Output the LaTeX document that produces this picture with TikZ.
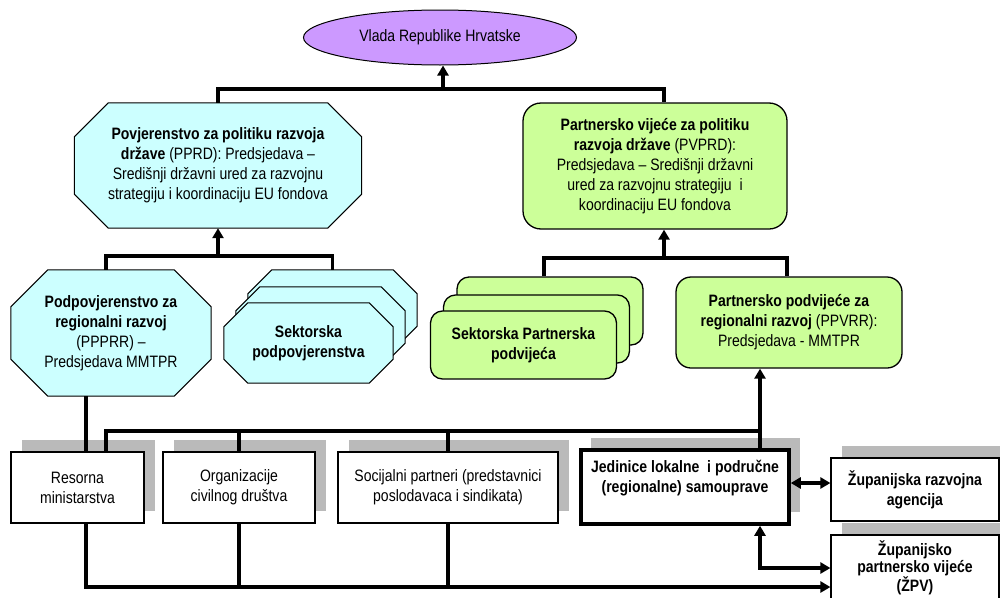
\documentclass[tikz,border=0pt]{standalone}
\usepackage{fontspec}
\setmainfont{Liberation Sans}[FakeStretch=0.85]
\usetikzlibrary{arrows.meta,calc,shadows,shapes.geometric}
\pgfdeclarelayer{bg}
\pgfsetlayers{bg,main}
\definecolor{lav}{HTML}{CC99FF}
\definecolor{cyf}{HTML}{CCFFFF}
\definecolor{grf}{HTML}{CCFF99}
\newcommand\octdraw[3]{%
  \draw[#3] ($(#1.north west)+(#2,0)$) -- ($(#1.north east)+(-#2,0)$) --
    ($(#1.north east)+(0,#2)$) -- ($(#1.south east)+(0,-#2)$) --
    ($(#1.south east)+(-#2,0)$) -- ($(#1.south west)+(#2,0)$) --
    ($(#1.south west)+(0,-#2)$) -- ($(#1.north west)+(0,#2)$) -- cycle;}
\begin{document}
\begin{tikzpicture}[x=1pt,y=-1pt,
  txt/.style={align=center,inner sep=0pt,font=\fontsize{16.5}{20}\selectfont},
  oct/.style={draw,fill=cyf,line width=1pt},
  rbox/.style={txt,draw,fill=grf,line width=1.3pt},
  plain/.style={txt,draw,fill=white,line width=1.2pt,
    general shadow={shadow xshift=11pt,shadow yshift=12pt,fill=black!27}},
  conn/.style={line width=3.1pt},
  arr/.style={conn,-{Triangle[length=10pt,width=11pt]}},
  arrs/.style={conn,{Triangle[length=10pt,width=11pt]}-{Triangle[length=10pt,width=11pt]}}]
\useasboundingbox (0,0) rectangle (1000,597);
\clip (0,0) rectangle (1000,597);

% top
\node[txt,ellipse,draw,fill=lav,line width=1pt,minimum width=273pt,minimum height=55pt] (vlada) at (440,37.5) {Vlada Republike Hrvatske};

\node[txt,minimum width=287pt,minimum height=125pt] (pprd) at (218,165.5)
  {\textbf{Povjerenstvo za politiku razvoja}\\ \textbf{države} (PPRD): Predsjedava –\\ Središnji državni ured za razvojnu\\ strategiju i koordinaciju EU fondova};
\begin{pgfonlayer}{bg}\octdraw{pprd}{34}{oct}\end{pgfonlayer}

\node[rbox,rounded corners=18pt,minimum width=264pt,minimum height=126pt] (pvprd) at (655,166)
  {\textbf{Partnersko vijeće za politiku}\\ \textbf{razvoja države} (PVPRD):\\ Predsjedava – Središnji državni\\ ured za razvojnu strategiju~ i\\ koordinaciju EU fondova};

% middle row
\node[txt,minimum width=200pt,minimum height=126pt] (ppprr) at (111,333)
  {\textbf{Podpovjerenstvo za}\\ \textbf{regionalni razvoj}\\ (PPPRR) –\\ Predsjedava MMTPR};
\node[minimum width=169pt,minimum height=80pt,inner sep=0pt] (spb) at (332.5,310) {};
\node[minimum width=169pt,minimum height=80pt,inner sep=0pt] (spm) at (320.5,327) {};
\node[txt,minimum width=169pt,minimum height=80pt] (spf) at (308.5,343)
  {\textbf{Sektorska}\\ \textbf{podpovjerenstva}};
\begin{pgfonlayer}{bg}
  \octdraw{ppprr}{37}{oct}
  \octdraw{spb}{24}{oct}
  \octdraw{spm}{24}{oct}
  \octdraw{spf}{24}{oct}
\end{pgfonlayer}

\node[rbox,rounded corners=12pt,minimum width=186pt,minimum height=68pt] (gb) at (550,311) {};
\node[rbox,rounded corners=12pt,minimum width=186pt,minimum height=68pt] (gm) at (536.5,329) {};
\node[rbox,rounded corners=12pt,minimum width=186pt,minimum height=68pt] (gf) at (523.5,345)
  {\textbf{Sektorska Partnerska}\\ \textbf{podvijeća}};

\node[rbox,rounded corners=15pt,minimum width=226pt,minimum height=91pt] (ppvrr) at (789,322.5)
  {\textbf{Partnersko podvijeće za}\\ \textbf{regionalni razvoj} (PPVRR):\\ Predsjedava - MMTPR};

% bottom row
\node[plain,minimum width=133pt,minimum height=71pt] (res) at (77.5,487.5) {Resorna\\ ministarstva};
\node[plain,minimum width=152pt,minimum height=71pt] (org) at (239,487.5) {Organizacije\\ civilnog društva};
\node[plain,minimum width=220pt,minimum height=71pt] (soc) at (448,487.5) {Socijalni partneri (predstavnici\\ poslodavaca i sindikata)};
\node[plain,line width=3.5pt,minimum width=208pt,minimum height=74pt,
  general shadow={shadow xshift=10pt,shadow yshift=12pt,fill=black!27}] (jed) at (685,487)
  {\textbf{Jedinice lokalne~ i područne}\\ \textbf{(regionalne) samouprave}\\[2pt]};
\node[plain,minimum width=168pt,minimum height=63pt] (zra) at (915,489.5) {\textbf{Županijska razvojna}\\ \textbf{agencija}};
\node[plain,minimum width=168pt,minimum height=66pt,font=\fontsize{16.5}{17}\selectfont] (zpv) at (915,568)
  {\textbf{Županijsko}\\ \textbf{partnersko vijeće}\\ \textbf{(ŽPV)}};

% connectors
\coordinate (b1) at (443,89);
\coordinate (b2) at (218,256);
\coordinate (b3) at (664,258);
\coordinate (b4l) at (106,431);
\coordinate (b4r) at (760,431);
\coordinate (rx) at (86,587);

\draw[conn] (pprd.north) |- (b1) -| (pvprd.north -| b3);
\draw[arr] (b1) -- (b1 |- vlada.south);

\draw[conn] (ppprr.north -| b4l) |- (b2) -| (spb.north);
\draw[arr] (b2) -- (pprd.south);

\draw[conn] ($(gb.north)+(-6,0)$) |- (b3) -| ($(ppvrr.north)+(-2,0)$);
\draw[arr] (b3) -- (pvprd.south -| b3);

\draw[conn] (res.north -| b4l) -- (b4l) -- (b4r);
\draw[conn] (org.north) -- (org.north |- b4l);
\draw[conn] (soc.north) -- (soc.north |- b4l);
\draw[arr] (jed.north -| b4r) -- (ppvrr.south -| b4r);

\draw[conn] (ppprr.south -| rx) -- (res.north -| rx);
\draw[arr] (res.south -| rx) -- (rx) -- (zpv.west |- rx);
\draw[conn] (org.south) -- (org.south |- rx);
\draw[conn] (soc.south) -- (soc.south |- rx);

\draw[arrs] ($(jed.east)+(0,-4)$) -- ($(zra.west |- jed.east)+(0,-4)$);
\draw[arrs] (jed.south -| b4r) |- (zpv.west);
\end{tikzpicture}
\end{document}
